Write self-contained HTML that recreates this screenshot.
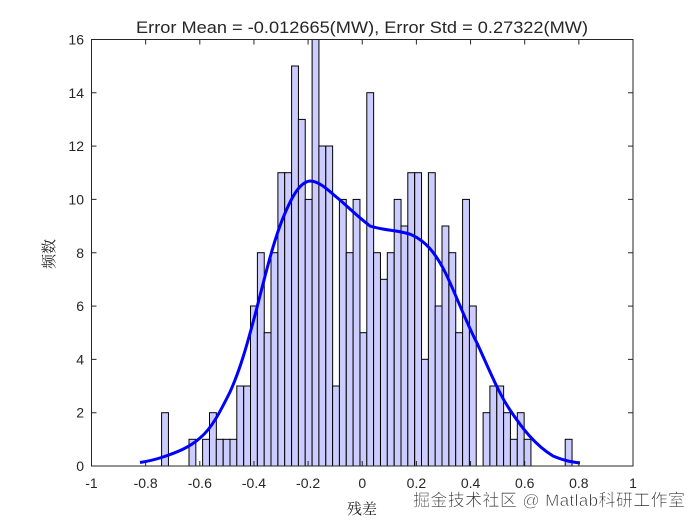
<!DOCTYPE html>
<html><head><meta charset="utf-8"><style>
html,body{margin:0;padding:0;background:#fff;}
svg{display:block;}
text{font-family:"Liberation Sans",Arial,sans-serif;fill:#262626;}
</style></head><body>
<svg width="700" height="525" xmlns="http://www.w3.org/2000/svg">
<rect width="700" height="525" fill="#fff"/>
<g fill="#ccccff" stroke="#000" stroke-width="1">
<rect x="161.6" y="412.7" width="6.84" height="53.3"/>
<rect x="189.0" y="439.3" width="6.84" height="26.7"/>
<rect x="202.6" y="439.3" width="6.84" height="26.7"/>
<rect x="209.5" y="412.7" width="6.84" height="53.3"/>
<rect x="216.3" y="439.3" width="6.84" height="26.7"/>
<rect x="223.2" y="439.3" width="6.84" height="26.7"/>
<rect x="230.0" y="439.3" width="6.84" height="26.7"/>
<rect x="236.8" y="386" width="6.84" height="80"/>
<rect x="243.7" y="386" width="6.84" height="80"/>
<rect x="250.5" y="306" width="6.84" height="160"/>
<rect x="257.4" y="252.7" width="6.84" height="213.3"/>
<rect x="264.2" y="332.7" width="6.84" height="133.3"/>
<rect x="271.0" y="252.7" width="6.84" height="213.3"/>
<rect x="277.9" y="172.7" width="6.84" height="293.3"/>
<rect x="284.7" y="172.7" width="6.84" height="293.3"/>
<rect x="291.6" y="66" width="6.84" height="400"/>
<rect x="298.4" y="119.4" width="6.84" height="346.6"/>
<rect x="305.2" y="199.4" width="6.84" height="266.6"/>
<rect x="312.1" y="39.5" width="6.84" height="426.5"/>
<rect x="318.9" y="146" width="6.84" height="320"/>
<rect x="325.8" y="146" width="6.84" height="320"/>
<rect x="332.6" y="386" width="6.84" height="80"/>
<rect x="339.4" y="199.4" width="6.84" height="266.6"/>
<rect x="346.3" y="252.7" width="6.84" height="213.3"/>
<rect x="353.1" y="199.4" width="6.84" height="266.6"/>
<rect x="360.0" y="332.7" width="6.84" height="133.3"/>
<rect x="366.8" y="92.7" width="6.84" height="373.3"/>
<rect x="373.6" y="252.7" width="6.84" height="213.3"/>
<rect x="380.5" y="279.3" width="6.84" height="186.7"/>
<rect x="387.3" y="252.7" width="6.84" height="213.3"/>
<rect x="394.2" y="199.4" width="6.84" height="266.6"/>
<rect x="401.0" y="226" width="6.84" height="240"/>
<rect x="407.8" y="172.7" width="6.84" height="293.3"/>
<rect x="414.7" y="172.7" width="6.84" height="293.3"/>
<rect x="421.5" y="359.3" width="6.84" height="106.7"/>
<rect x="428.4" y="172.7" width="6.84" height="293.3"/>
<rect x="435.2" y="306" width="6.84" height="160"/>
<rect x="442.0" y="226" width="6.84" height="240"/>
<rect x="448.9" y="252.7" width="6.84" height="213.3"/>
<rect x="455.7" y="332.7" width="6.84" height="133.3"/>
<rect x="462.6" y="199.4" width="6.84" height="266.6"/>
<rect x="469.4" y="306" width="6.84" height="160"/>
<rect x="483.1" y="412.7" width="6.84" height="53.3"/>
<rect x="489.9" y="386" width="6.84" height="80"/>
<rect x="496.8" y="386" width="6.84" height="80"/>
<rect x="503.6" y="412.7" width="6.84" height="53.3"/>
<rect x="510.4" y="439.3" width="6.84" height="26.7"/>
<rect x="517.3" y="412.7" width="6.84" height="53.3"/>
<rect x="524.1" y="439.3" width="6.84" height="26.7"/>
<rect x="565.2" y="439.3" width="6.84" height="26.7"/>
</g>
<path d="M140,462.5 C150,461 157,459 163,457 C178,452 190,447 200,438 C212,428 220,412 230,392 C240,370 247,345 255,315 C263,285 272,245 283,218 C292,196 300,182 310,181 C320,181 330,192 340,200 C348,207 356,215 370,226 C385,231 400,230 412,235 C425,241 435,252 445,272 C455,292 465,320 477,343 C488,367 498,392 510,410 C522,428 535,445 553,456 C565,461 572,462 580,463" fill="none" stroke="#0000ff" stroke-width="3"/>
<rect x="91.5" y="39.5" width="541.5" height="426.5" fill="none" stroke="#262626" stroke-width="1"/>
<g stroke="#262626" stroke-width="1">
<path d="M91.5,466v-5M145.65,466v-5M199.8,466v-5M253.95,466v-5M308.1,466v-5M362.25,466v-5M416.4,466v-5M470.55,466v-5M524.7,466v-5M578.85,466v-5M633,466v-5"/>
<path d="M91.5,39.5v5M145.65,39.5v5M199.8,39.5v5M253.95,39.5v5M308.1,39.5v5M362.25,39.5v5M416.4,39.5v5M470.55,39.5v5M524.7,39.5v5M578.85,39.5v5M633,39.5v5"/>
<path d="M91.5,466h5M91.5,412.7h5M91.5,359.4h5M91.5,306.1h5M91.5,252.8h5M91.5,199.4h5M91.5,146.1h5M91.5,92.8h5M91.5,39.5h5"/>
<path d="M633,466h-5M633,412.7h-5M633,359.4h-5M633,306.1h-5M633,252.8h-5M633,199.4h-5M633,146.1h-5M633,92.8h-5M633,39.5h-5"/>
</g>
<g font-size="14" text-anchor="middle">
<text x="91.5" y="488">-1</text>
<text x="145.65" y="488">-0.8</text>
<text x="199.8" y="488">-0.6</text>
<text x="253.95" y="488">-0.4</text>
<text x="308.1" y="488">-0.2</text>
<text x="362.25" y="488">0</text>
<text x="416.4" y="488">0.2</text>
<text x="470.55" y="488">0.4</text>
<text x="524.7" y="488">0.6</text>
<text x="578.85" y="488">0.8</text>
<text x="633" y="488">1</text>
</g>
<g font-size="14" text-anchor="end">
<text x="84" y="471">0</text>
<text x="84" y="417.7">2</text>
<text x="84" y="364.4">4</text>
<text x="84" y="311.1">6</text>
<text x="84" y="257.8">8</text>
<text x="84" y="204.4">10</text>
<text x="84" y="151.1">12</text>
<text x="84" y="97.8">14</text>
<text x="84" y="44.5">16</text>
</g>
<text x="136" y="33" font-size="17" fill="#000" textLength="452" lengthAdjust="spacingAndGlyphs">Error Mean = -0.012665(MW), Error Std = 0.27322(MW)</text>
<text x="362" y="514" font-size="15" text-anchor="middle" style="font-family:'Noto Serif CJK SC',serif">残差</text>
<text transform="translate(54,254) rotate(-90)" font-size="15" text-anchor="middle" style="font-family:'Noto Serif CJK SC',serif">频数</text>
<text x="413" y="506" font-size="17" fill="#8a8a8a" stroke="#ffffff" stroke-width="0.6" style="font-family:'Liberation Sans','Noto Sans CJK SC',sans-serif" textLength="272">掘金技术社区 @ Matlab科研工作室</text>
</svg>
</body></html>
